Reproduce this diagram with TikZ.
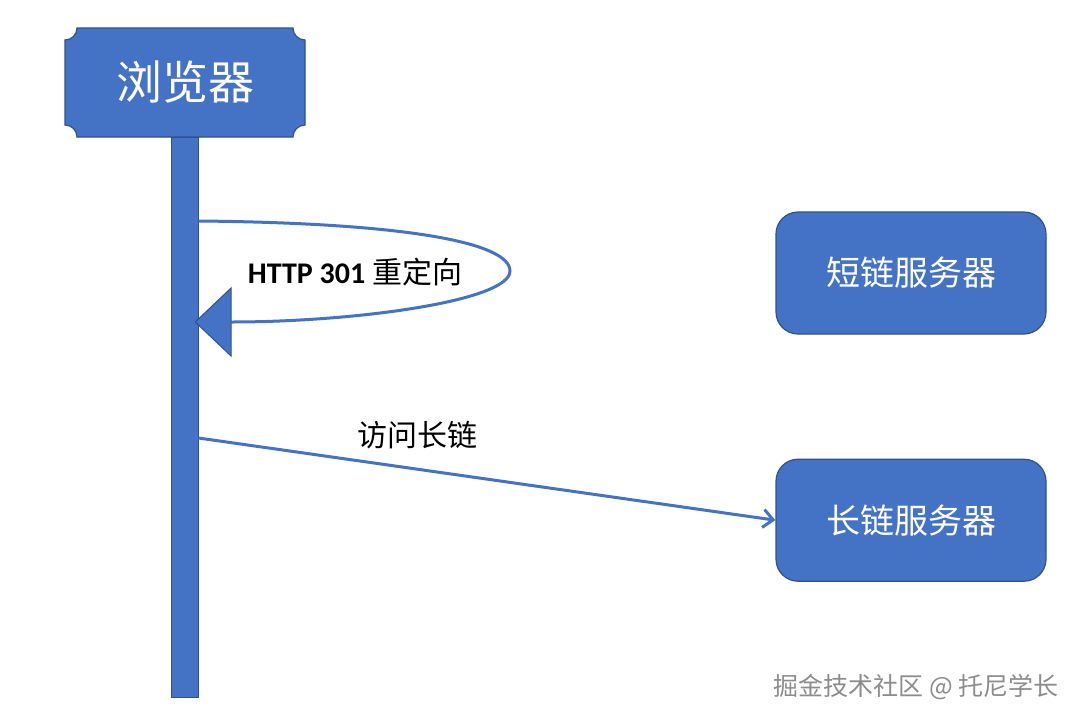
\documentclass[tikz,border=0pt]{standalone}
\usepackage{fontspec}
\setmainfont{Carlito}
\newfontfamily\cjk{Noto Sans CJK SC}
\usetikzlibrary{arrows.meta,positioning,calc,backgrounds}
\definecolor{boxblue}{HTML}{4472C4}
\definecolor{edgeblue}{HTML}{2F528F}
\definecolor{markgray}{HTML}{8C8C8C}
\tikzset{
  hdrblk/.style={rectangle,minimum width=240pt,minimum height=109pt,inner sep=0pt,outer sep=0pt,text=white,font=\cjk\fontsize{46}{50}\selectfont},
  srvblk/.style={draw=edgeblue,fill=boxblue,line width=1.2pt,rounded corners=22pt,minimum width=270pt,minimum height=122pt,text=white,font=\cjk\fontsize{34}{38}\selectfont},
  lifebar/.style={draw=edgeblue,fill=boxblue,line width=0.8pt,minimum width=27pt,minimum height=560pt,inner sep=0pt,outer sep=0pt},
  arr/.style={-{Straight Barb[length=10pt,width=18pt]},line width=3pt,draw=boxblue},
  looparr/.style={-{Triangle[length=37pt,width=70pt,line width=1pt,color=edgeblue,fill=boxblue]},line width=3pt,draw=boxblue},
  lbl/.style={font=\fontsize{30}{34}\selectfont,text=black}
}
\begin{document}
\begin{tikzpicture}[x=1pt,y=-1pt]
  \useasboundingbox (0,0) rectangle (1080,721);
  \node[hdrblk] (browser) at (185,82.5) {浏览器};
  \node[lifebar, below=0pt of browser] (life) {};
  \begin{scope}[on background layer]
    \filldraw[draw=edgeblue,fill=boxblue,line width=1.2pt]
      ([xshift=12pt]browser.north west) -- ([xshift=-12pt]browser.north east)
      arc[start angle=180,end angle=90,radius=12]
      -- ([yshift=12pt]browser.south east)
      arc[start angle=270,end angle=180,radius=12]
      -- ([xshift=12pt]browser.south west)
      arc[start angle=0,end angle=-90,radius=12]
      -- ([yshift=-12pt]browser.north west)
      arc[start angle=90,end angle=0,radius=12]
      -- cycle;
  \end{scope}

  \node[srvblk] (sserver) at (911,273) {短链服务器};
  \node[srvblk, below=124pt of sserver] (lserver) {长链服务器};

  \coordinate (redirOut) at ([yshift=196pt]life.east);
  \coordinate (redirFar) at (510,271);
  \coordinate (redirIn) at ([xshift=-4pt,yshift=95pt]life.east);
  \coordinate (visitOut) at ([yshift=-21pt]life.east);

  \draw[looparr] (redirOut) .. controls +(210,2) and +(0,-28) .. (redirFar)
    .. controls +(0,30) and +(160,0) .. (redirIn);
  \node[lbl] (redirlbl) at (355,272) {{\bfseries HTTP 301} {\cjk 重定向}};

  \draw[arr] (visitOut) -- (lserver.west)
    node[lbl,font=\cjk\fontsize{30}{34}\selectfont,pos=0.38,yshift=34pt] (visitlbl) {访问长链};

  \node[font=\cjk\fontsize{25}{28}\selectfont,text=markgray] (mark) at (916,687) {掘金技术社区 @ 托尼学长};
\end{tikzpicture}
\end{document}
